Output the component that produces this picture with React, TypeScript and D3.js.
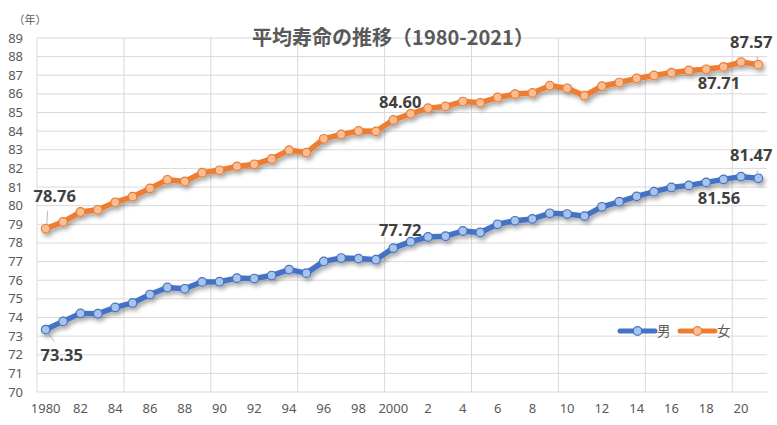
import React from "react";
import * as d3 from "d3";

const years: number[] = d3.range(1980, 2022);
const male: number[] = [
  73.35, 73.79, 74.22, 74.2, 74.54, 74.78, 75.23, 75.61, 75.54, 75.91,
  75.92, 76.11, 76.09, 76.25, 76.57, 76.38, 77.01, 77.19, 77.16, 77.1,
  77.72, 78.07, 78.32, 78.36, 78.64, 78.56, 79.0, 79.19, 79.29, 79.59,
  79.55, 79.44, 79.94, 80.21, 80.5, 80.75, 80.98, 81.09, 81.25, 81.41,
  81.56, 81.47,
];
const female: number[] = [
  78.76, 79.13, 79.66, 79.78, 80.18, 80.48, 80.93, 81.39, 81.3, 81.77,
  81.9, 82.11, 82.22, 82.51, 82.98, 82.85, 83.59, 83.82, 84.01, 83.99,
  84.6, 84.93, 85.23, 85.33, 85.59, 85.52, 85.81, 85.99, 86.05, 86.44,
  86.3, 85.9, 86.41, 86.61, 86.83, 86.99, 87.14, 87.26, 87.32, 87.45,
  87.71, 87.57,
];
const yTicks: number[] = d3.range(70, 90);
const xTickLabels: string[] = [
  "1980", "82", "84", "86", "88", "90", "92", "94", "96", "98",
  "2000", "2", "4", "6", "8", "10", "12", "14", "16", "18", "20",
];
const seriesNames: string[] = ["男", "女"];
const title = "平均寿命の推移（1980-2021）";
const yUnit = "（年）";

// labelled points: [series index, year, text]
const labelYears: [number, number, string][] = [
  [1, 1980, "78.76"],
  [0, 1980, "73.35"],
  [1, 2000, "84.60"],
  [0, 2000, "77.72"],
  [1, 2021, "87.57"],
  [1, 2020, "87.71"],
  [0, 2021, "81.47"],
  [0, 2020, "81.56"],
];

const W = 777;
const H = 425;
const colors = ["#4472C4", "#ED7D31"];
const markerFill = ["#A9C4EB", "#F8BE96"];
const textColor = "#595959";
const gridColor = "#D9D9D9";
const numFont = "'Noto Sans', 'Liberation Sans', sans-serif";
const cjkFont = "'Noto Sans CJK JP', 'Noto Sans', sans-serif";

// label placement: dx, dy relative to the point; leader line optional
const labelPlacement: Record<string, { dx: number; dy: number; leader?: boolean }> = {
  "1-1980": { dx: 9, dy: -27, leader: true },
  "0-1980": { dx: 16, dy: 31, leader: true },
  "1-2000": { dx: 7, dy: -12 },
  "0-2000": { dx: 7, dy: -12 },
  "1-2021": { dx: -7, dy: -17, leader: true },
  "1-2020": { dx: -22, dy: 27 },
  "0-2021": { dx: -7, dy: -17, leader: true },
  "0-2020": { dx: -22, dy: 27 },
};

export default function App() {
  const x = d3.scaleBand<number>().domain(years).range([37, 767]).paddingInner(0).paddingOuter(0);
  const y = d3.scaleLinear().domain([70, 89]).range([392, 38]);
  const cx = (yr: number) => (x(yr) as number) + x.bandwidth() / 2;
  const series = [male, female];
  const line = d3
    .line<number>()
    .x((_, i) => cx(years[i]))
    .y((d) => y(d));

  const vGrid = years.filter((_, i) => i % 5 === 0 && i > 0).map((yr) => x(yr) as number);

  return (
    <svg
      width={W}
      height={H}
      style={{ position: "absolute", left: 0, top: 0, background: "#fff" }}
    >
      <defs>
        <filter id="shadow" x="-10%" y="-20%" width="120%" height="150%">
          <feDropShadow dx="2" dy="3" stdDeviation="2" floodColor="#000" floodOpacity="0.35" />
        </filter>
      </defs>
      <rect width={W} height={H} fill="#fff" />
      {yTicks.map((t) => (
        <line key={"h" + t} x1={37} x2={767} y1={y(t)} y2={y(t)} stroke={gridColor} strokeWidth={1} />
      ))}
      <line x1={37} x2={37} y1={y(89)} y2={y(70)} stroke={gridColor} />
      {vGrid.map((gx) => (
        <line key={"v" + gx} x1={gx} x2={gx} y1={y(89)} y2={y(70)} stroke={gridColor} strokeWidth={1} />
      ))}
      {yTicks.map((t) => (
        <text
          key={"yl" + t}
          x={23}
          y={y(t)}
          dy="0.35em"
          textAnchor="end"
          fontFamily={numFont}
          fontSize={13}
          fill={textColor}
        >
          {t}
        </text>
      ))}
      <text x={30} y={24} textAnchor="middle" fontFamily={cjkFont} fontSize={11} fill={textColor}>
        {yUnit}
      </text>
      {xTickLabels.map((lab, i) => (
        <text
          key={"xl" + i}
          x={cx(years[i * 2])}
          y={413}
          textAnchor="middle"
          fontFamily={numFont}
          fontSize={13}
          fill={textColor}
        >
          {lab}
        </text>
      ))}
      <text
        x={393}
        y={45}
        textAnchor="middle"
        fontFamily={cjkFont}
        fontWeight="bold"
        fontSize={20}
        fill={textColor}
      >
        {title}
      </text>
      {series.map((s, si) => (
        <g key={"s" + si} filter="url(#shadow)">
          <path d={line(s) || ""} fill="none" stroke={colors[si]} strokeWidth={5.5} strokeLinejoin="round" strokeLinecap="round" />
          {s.map((v, i) => (
            <circle
              key={i}
              cx={cx(years[i])}
              cy={y(v)}
              r={4.3}
              fill={markerFill[si]}
              stroke={colors[si]}
              strokeWidth={1.2}
            />
          ))}
        </g>
      ))}
      {labelYears.map(([si, yr, txt]) => {
        const key = si + "-" + yr;
        const p = labelPlacement[key];
        const px = cx(yr);
        const py = y(series[si][years.indexOf(yr)]);
        const tx = px + p.dx;
        const ty = py + p.dy;
        let leader: React.ReactNode = null;
        if (p.leader) {
          const lx2 = p.dx > 0 ? tx - 7 : tx + 6;
          const ly2 = p.dy < 0 ? ty + 9 : ty - 19;
          leader = (
            <line
              x1={px + (p.dx > 0 ? 1 : -1) * 1}
              y1={py + (p.dy < 0 ? -4 : 3)}
              x2={lx2}
              y2={ly2}
              stroke="#A6A6A6"
              strokeWidth={0.8}
            />
          );
        }
        return (
          <g key={"lab" + key}>
            {leader}
            <text
              x={tx}
              y={ty}
              textAnchor="middle"
              fontFamily={numFont}
              fontWeight="bold"
              fontSize={16.5}
              fill="#404040"
            >
              {txt}
            </text>
          </g>
        );
      })}
      {seriesNames.map((nm, i) => {
        const lx = 620 + i * 60;
        const ly = 331;
        return (
          <g key={"lg" + i}>
            <line x1={lx} x2={lx + 35} y1={ly} y2={ly} stroke={colors[i]} strokeWidth={5} strokeLinecap="round" />
            <circle cx={lx + 17.5} cy={ly} r={4.3} fill={markerFill[i]} stroke={colors[i]} strokeWidth={1.2} />
            <text x={lx + 37} y={ly} dy="0.36em" fontFamily={cjkFont} fontSize={13.5} fill={textColor}>
              {nm}
            </text>
          </g>
        );
      })}
    </svg>
  );
}
